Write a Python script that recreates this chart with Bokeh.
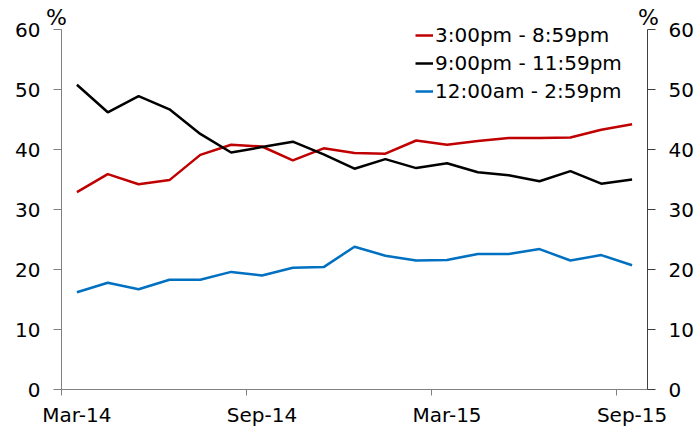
from bokeh.plotting import figure
from bokeh.models import (Range1d, LinearAxis, FixedTicker, Legend, LegendItem, Label)
from bokeh.embed import file_html
from bokeh.resources import INLINE

months = ["Mar-14", "Apr-14", "May-14", "Jun-14", "Jul-14", "Aug-14", "Sep-14",
          "Oct-14", "Nov-14", "Dec-14", "Jan-15", "Feb-15", "Mar-15", "Apr-15",
          "May-15", "Jun-15", "Jul-15", "Aug-15", "Sep-15"]
afternoon = [32.9, 35.9, 34.2, 34.9, 39.1, 40.8, 40.5, 38.2, 40.2, 39.4, 39.3,
             41.5, 40.8, 41.4, 41.9, 41.9, 42.0, 43.3, 44.2]
evening = [50.8, 46.2, 48.9, 46.7, 42.6, 39.5, 40.4, 41.3, 39.2, 36.8, 38.4,
           36.9, 37.7, 36.2, 35.7, 34.7, 36.4, 34.3, 35.0]
daytime = [16.2, 17.8, 16.7, 18.3, 18.3, 19.6, 19.0, 20.3, 20.4, 23.8, 22.3,
           21.5, 21.6, 22.6, 22.6, 23.4, 21.5, 22.4, 20.7]
series_names = ["3:00pm - 8:59pm", "9:00pm - 11:59pm", "12:00am - 2:59pm"]
colors = ["#C00000", "#000000", "#0070C0"]
tick_labels = ["Mar-14", "Sep-14", "Mar-15", "Sep-15"]
y_ticks = [0, 10, 20, 30, 40, 50, 60]

x = list(range(len(months)))
label_pos = [months.index(t) for t in tick_labels]

W, H = 696, 427
# plot area (axes box) in pixels
L, R, T, B = 61, 647, 29, 389
x_lo, x_hi = -0.5, len(months) - 0.5
y_lo, y_hi = 0, 60
sx = (R - L) / (x_hi - x_lo)
sy = (B - T) / (y_hi - y_lo)

FONT = "DejaVu Sans"
FS = "20px"

p = figure(width=W, height=H, output_backend="svg", toolbar_location=None,
           x_range=Range1d(x_lo - L / sx, x_hi + (W - R) / sx),
           y_range=Range1d(y_lo - (H - B) / sy, y_hi + T / sy),
           min_border_left=0, min_border_right=0, min_border_top=0,
           min_border_bottom=0, x_axis_type=None, y_axis_type=None)
p.outline_line_color = None
p.xgrid.visible = False
p.ygrid.visible = False
p.background_fill_color = "white"
p.border_fill_color = "white"

# bottom axis
xa = LinearAxis(ticker=FixedTicker(ticks=label_pos,
                                   minor_ticks=[v - 0.5 for v in label_pos]),
                fixed_location=y_lo, bounds=(x_lo, x_hi))
xa.major_label_overrides = {pos: lab for pos, lab in zip(label_pos, tick_labels)}
xa.major_tick_out = 0
xa.major_tick_in = 0
xa.minor_tick_out = 6
xa.minor_tick_in = 0
xa.minor_tick_line_color = "#808080"
xa.axis_line_color = "#808080"
xa.major_label_text_font = FONT
xa.major_label_text_font_size = FS
xa.major_label_text_color = "black"
xa.major_label_standoff = 7
p.add_layout(xa, "below")

# left and right axes
for side, col, loc in (("left", "#808080", x_lo), ("right", "#404040", x_hi)):
    ya = LinearAxis(ticker=FixedTicker(ticks=y_ticks, minor_ticks=[]),
                    fixed_location=loc, bounds=(y_lo, y_hi))
    ya.major_tick_out = 8
    ya.major_tick_in = 0
    ya.minor_tick_out = 0
    ya.axis_line_color = col
    ya.major_tick_line_color = col
    ya.major_label_text_font = FONT
    ya.major_label_text_font_size = FS
    ya.major_label_text_color = "black"
    ya.major_label_standoff = 13
    p.add_layout(ya, side)

renderers = []
for ys, c in zip([afternoon, evening, daytime], colors):
    r = p.line(x, ys, line_color=c, line_width=2.5)
    renderers.append(r)

legend = Legend(items=[LegendItem(label=n, renderers=[r]) for n, r in zip(series_names, renderers)],
                location=(415, H - 105), orientation="vertical",
                padding=0, margin=0, spacing=0,
                glyph_width=18, glyph_height=28, label_height=28,
                label_standoff=2, border_line_color=None,
                background_fill_alpha=0,
                label_text_font=FONT, label_text_font_size=FS,
                label_text_color="black")
p.add_layout(legend, "center")

for xv, off in ((x_lo, -5), (x_hi, 1)):
    p.add_layout(Label(x=xv, y=y_hi, text="%", x_offset=off, y_offset=12,
                       text_align="center", text_baseline="alphabetic",
                       text_font=FONT, text_font_size="22px", text_color="black"))

open("out.html", "w").write(file_html(p, INLINE))
